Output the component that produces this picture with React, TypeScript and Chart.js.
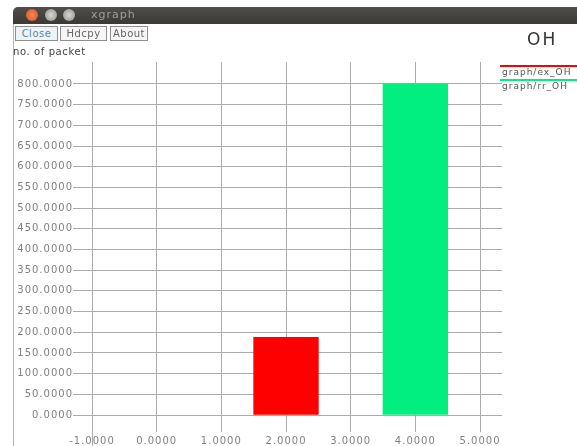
import React, { useEffect, useRef } from "react";
import { Chart, registerables } from "chart.js";

Chart.register(...registerables);

// ---- data ----
const xTicks = [-1, 0, 1, 2, 3, 4, 5];
const yTicks = [0, 50, 100, 150, 200, 250, 300, 350, 400, 450, 500, 550, 600, 650, 700, 750, 800];
const seriesLabels = ["graph/ex_OH", "graph/rr_OH"];
const barX = [2, 4];
const barY = [188, 800];
const xLimits = [-1.294, 5.34];
const yLimits = [-41, 853];
const chartTitle = "OH";
const yAxisTitle = "no. of packet";
const buttons = ["Close", "Hdcpy", "About"];

const seriesColors = ["#ff0000", "#00ef80"];
const gridColor = "#acacac";

export default function App() {
  const canvasRef = useRef<HTMLCanvasElement | null>(null);

  useEffect(() => {
    const canvas = canvasRef.current;
    if (!canvas) return;
    const spacing = {
      id: "spacing",
      beforeDraw(chart: any) {
        chart.ctx.letterSpacing = "1px";
      },
      afterDraw(chart: any) {
        const ctx = chart.ctx;
        const x = Math.round(chart.scales.x.getPixelForValue(xTicks[0])) + 0.5;
        ctx.save();
        ctx.strokeStyle = gridColor;
        ctx.lineWidth = 1;
        ctx.beginPath();
        ctx.moveTo(x, chart.chartArea.bottom);
        ctx.lineTo(x, chart.height);
        ctx.stroke();
        ctx.restore();
      },
    };
    const chart = new Chart(canvas, {
      type: "bar",
      data: {
        datasets: barX.map((xv, i) => ({
          label: seriesLabels[i],
          data: [{ x: xv, y: barY[i] }],
          backgroundColor: seriesColors[i],
          borderWidth: 0,
          grouped: false,
          barPercentage: 1,
          categoryPercentage: 1,
        })),
      },
      options: {
        responsive: false,
        animation: false,
        devicePixelRatio: 1,
        layout: { padding: { top: 62, right: 75, left: 0, bottom: 0 } },
        plugins: { legend: { display: false }, tooltip: { enabled: false }, title: { display: false } },
        scales: {
          x: {
            type: "linear",
            min: xLimits[0],
            max: xLimits[1],
            offset: false,
            afterBuildTicks: (s: any) => {
              s.ticks = xTicks.map((v) => ({ value: v }));
            },
            afterFit: (s: any) => {
              s.height = 14;
            },
            grid: { color: gridColor, lineWidth: 1, drawTicks: false, offset: false },
            border: { display: false },
            ticks: {
              padding: 3,
              color: "#808080",
              font: { family: "DejaVu Sans", size: 10 },
              maxRotation: 0,
              autoSkip: false,
              callback: (v: any) => Number(v).toFixed(4),
            },
          },
          y: {
            type: "linear",
            min: yLimits[0],
            max: yLimits[1],
            afterBuildTicks: (s: any) => {
              s.ticks = yTicks.map((v) => ({ value: v }));
            },
            afterFit: (s: any) => {
              s.width = 73;
            },
            grid: { color: gridColor, lineWidth: 1, drawTicks: false },
            border: { display: false },
            ticks: {
              padding: 0,
              color: "#808080",
              font: { family: "DejaVu Sans", size: 10 },
              autoSkip: false,
              callback: (v: any) => Number(v).toFixed(4),
            },
          },
        },
      },
      plugins: [spacing],
    } as any);
    return () => chart.destroy();
  }, []);

  const btnPos = [
    { left: 15, width: 43 },
    { left: 60, width: 47 },
    { left: 110, width: 38 },
  ];

  return (
    <div
      style={{
        position: "fixed",
        left: 0,
        top: 0,
        width: 577,
        height: 446,
        background: "#ffffff",
        overflow: "hidden",
        fontFamily: "DejaVu Sans, sans-serif",
      }}
    >
      <canvas ref={canvasRef} width={577} height={446} style={{ position: "absolute", left: 0, top: 0, width: 577, height: 446 }} />
      {/* title bar */}
      <div
        style={{
          position: "absolute",
          left: 13,
          top: 7,
          width: 564,
          height: 17,
          background: "linear-gradient(#4f4e4a, #3a3935)",
          borderTopLeftRadius: 5,
        }}
      />
      <div style={{ position: "absolute", left: 26, top: 9, width: 12, height: 12, borderRadius: 6, background: "radial-gradient(#f58a5c, #d9501e)" }} />
      <div style={{ position: "absolute", left: 45, top: 9, width: 12, height: 12, borderRadius: 6, background: "radial-gradient(#d8d7d3, #8f8e89)" }} />
      <div style={{ position: "absolute", left: 63, top: 9, width: 12, height: 12, borderRadius: 6, background: "radial-gradient(#d8d7d3, #8f8e89)" }} />
      <div style={{ position: "absolute", left: 91, top: 8, fontSize: 11, lineHeight: "14px", color: "#9e9d98", letterSpacing: 1 }}>xgraph</div>
      {/* window edge */}
      <div style={{ position: "absolute", left: 13, top: 24, width: 1, height: 422, background: "#b4b4b4" }} />
      {/* buttons */}
      {buttons.map((b, i) => (
        <div
          key={b}
          style={{
            position: "absolute",
            left: btnPos[i].left,
            top: 26,
            width: btnPos[i].width,
            height: 15,
            border: "1px solid #8e8e8e",
            boxSizing: "border-box",
            background: i === 0 ? "#eef3f7" : "#f6f6f6",
            color: i === 0 ? "#5f86a6" : "#666",
            fontSize: 10,
            lineHeight: "13px",
            textAlign: "center",
            letterSpacing: 0.5,
          }}
        >
          {b}
        </div>
      ))}
      <div style={{ position: "absolute", left: 13, top: 46, fontSize: 10, lineHeight: "12px", color: "#444", letterSpacing: 0.6, whiteSpace: "nowrap" }}>
        {yAxisTitle}
      </div>
      <div style={{ position: "absolute", left: 527, top: 30, fontSize: 17, lineHeight: "18px", color: "#333", letterSpacing: 2 }}>{chartTitle}</div>
      {/* legend */}
      <div style={{ position: "absolute", left: 500, top: 60, width: 77, height: 34, overflow: "hidden" }}>
        {seriesLabels.map((lbl, i) => (
          <div key={lbl} style={{ position: "absolute", left: 0, top: 5 + i * 14, width: 77 }}>
            <div style={{ height: 2, background: seriesColors[i] }} />
            <div style={{ fontSize: 9, lineHeight: "10px", color: "#555", paddingLeft: 2, whiteSpace: "nowrap", letterSpacing: 1 }}>{lbl}</div>
          </div>
        ))}
      </div>
    </div>
  );
}
